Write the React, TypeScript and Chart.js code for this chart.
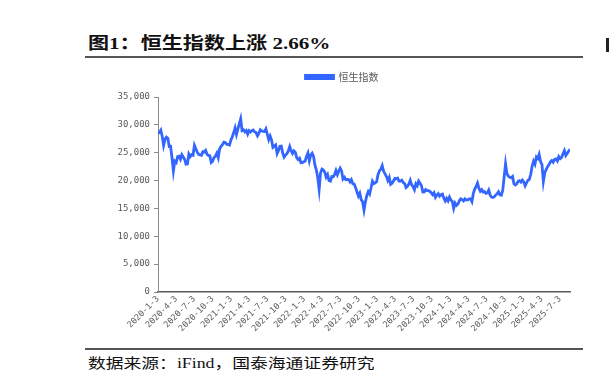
import React, { useEffect, useRef } from 'react';
import { Chart, registerables } from 'chart.js';

Chart.register(...registerables);

const titleText = '图1：恒生指数上涨 2.66%';
const sourceText = '数据来源：iFind，国泰海通证券研究';
const seriesName = '恒生指数';

// Weekly (Friday) closes starting 2020-01-03
const hsi2020 = [
  28452, 28638, 29056, 27950, 26313, 27404, 27815, 27609, 26130, 26146, 24032, 21700, 23484,
  23236, 24300, 24380, 23831, 24644, 24230, 23797, 22930, 22961, 24770, 24301, 24644, 24549,
  26339, 25727, 25089, 24705, 24595, 24531, 25183, 25113, 25422, 24695, 24503, 24455, 23235,
  23459, 24119, 24386, 24918, 24107, 25712, 26157, 26451, 26894, 26836, 26506, 26498, 26387,
  27231,
];
const hsi2021 = [
  27878, 28574, 29448, 28284, 29289, 30173, 31085, 28980, 29098, 28740, 28990, 28336, 28939,
  28698, 28970, 29078, 28725, 28610, 28027, 28458, 29124, 28918, 28842, 28801, 29288, 28310,
  27344, 28004, 27321, 25961, 26179, 26391, 24849, 25407, 26163, 26205, 24920, 24192, 24576,
  24838, 25331, 26127, 25377, 24871, 25328, 25050, 24080, 23767, 23996, 23193, 23224, 23398,
];
const hsi2022 = [
  23493, 24383, 24966, 23550, 24573, 24906, 24328, 22767, 21905, 20554, 18415, 21404, 22039,
  21872, 21518, 20638, 21089, 20002, 19898, 20717, 20697, 21082, 21806, 21075, 21719, 22230,
  21725, 20297, 20609, 20156, 20202, 20175, 19773, 20170, 19453, 19362, 18762, 17933, 17223,
  17740, 16588, 16211, 14700, 16161, 17326, 17993, 17574, 18675, 19901, 19450, 19593, 19781,
];
const hsi2023 = [
  21052, 21738, 22045, 22689, 21660, 21190, 20719, 20010, 20567, 19320, 19518, 19915, 20400,
  20331, 20438, 19898, 19895, 20049, 19628, 19450, 18746, 18949, 19390, 20040, 19218, 18916,
  18365, 19414, 19075, 19917, 19539, 19075, 17951, 17956, 18382, 18202, 18182, 18057, 17809,
  17485, 17813, 16995, 17398, 17664, 17203, 17454, 17559, 16830, 16334, 16792, 16341, 17047,
];
const hsi2024 = [
  16535, 16244, 15000, 15952, 15533, 15747, 16340, 16726, 16589, 16353, 16721, 16499, 16541,
  16724, 16721, 16224, 17651, 18476, 18964, 19554, 18609, 18080, 18367, 17942, 18028, 17719,
  17799, 18293, 17417, 17022, 16945, 17090, 17430, 17612, 17989, 17444, 17369, 18258, 20632,
  23000, 21252, 20804, 20590, 20506, 20728, 19426, 19230, 19424, 19866, 19971, 19720, 20090,
];
const hsi2025 = [
  19760, 19064, 19584, 20066, 20225, 21133, 22620, 23478, 22941, 24231, 23959, 24700, 23426,
  22849, 19830, 21395, 21980, 22504, 22868, 23345, 23601, 23290, 23792, 23892, 23531, 24284,
  23916, 24140, 24826, 25388, 24508, 24859, 25270, 25600,
];

const tickLabels = [
  '2020-1-3', '2020-4-3', '2020-7-3', '2020-10-3', '2021-1-3', '2021-4-3', '2021-7-3', '2021-10-3',
  '2022-1-3', '2022-4-3', '2022-7-3', '2022-10-3', '2023-1-3', '2023-4-3', '2023-7-3', '2023-10-3',
  '2024-1-3', '2024-4-3', '2024-7-3', '2024-10-3', '2025-1-3', '2025-4-3', '2025-7-3',
];

const yTicks = [0, 5000, 10000, 15000, 20000, 25000, 30000, 35000];

const dayOffset = (s: string) => {
  const [y, m, d] = s.split('-').map(Number);
  return (Date.UTC(y, m - 1, d) - Date.UTC(2020, 0, 3)) / 86400000;
};

export default function App() {
  const ref = useRef<HTMLCanvasElement | null>(null);

  useEffect(() => {
    if (!ref.current) return;
    const values = [...hsi2020, ...hsi2021, ...hsi2022, ...hsi2023, ...hsi2024, ...hsi2025];
    const points = values.map((v, i) => ({ x: i * 7, y: v }));
    const lastDay = (values.length - 1) * 7;
    const tickDays = tickLabels.map(dayOffset);
    const grey = '#595959';

    const chart = new Chart(ref.current, {
      type: 'line',
      data: {
        datasets: [
          {
            label: seriesName,
            data: points,
            borderColor: '#3366ff',
            backgroundColor: '#3366ff',
            borderWidth: 2.8,
            pointRadius: 0,
            tension: 0,
          },
        ],
      },
      options: {
        animation: false,
        responsive: false,
        maintainAspectRatio: false,
        layout: { padding: { top: 0, right: 14, bottom: 0, left: 14 } },
        plugins: {
          legend: {
            display: true,
            position: 'top',
            weight: 3000,
            labels: {
              boxWidth: 28,
              boxHeight: 3,
              color: grey,
              padding: 14,
              font: { size: 10, family: '"Noto Sans CJK SC", sans-serif' },
            },
          },
          // blank spacer between the legend and the plot area
          title: {
            display: true,
            text: ' ',
            color: 'rgba(0,0,0,0)',
            font: { size: 1, lineHeight: 1 },
            padding: { top: 4, bottom: 0 },
          },
          tooltip: { enabled: false },
        },
        scales: {
          x: {
            type: 'linear',
            min: 0,
            max: lastDay,
            afterBuildTicks: (scale: any) => {
              scale.ticks = tickDays.map((v) => ({ value: v }));
            },
            afterFit: (scale: any) => {
              scale.height = 50;
            },
            ticks: {
              autoSkip: false,
              maxRotation: 45,
              minRotation: 45,
              color: grey,
              padding: 2,
              font: { size: 8.5, family: '"DejaVu Sans Mono", monospace' },
              callback: (_v: any, i: number) => tickLabels[i],
            },
            grid: { display: true, drawOnChartArea: false, drawTicks: false },
            border: { color: grey, width: 1.5 },
          },
          y: {
            min: 0,
            max: 35000,
            afterBuildTicks: (scale: any) => {
              scale.ticks = yTicks.map((v) => ({ value: v }));
            },
            afterFit: (scale: any) => {
              scale.width = 44;
            },
            ticks: {
              color: grey,
              padding: 4,
              font: { size: 9, family: '"DejaVu Sans Mono", monospace' },
              callback: (v: any) => Number(v).toLocaleString('en-US'),
            },
            grid: { drawOnChartArea: false, drawTicks: true, tickLength: 4, color: '#8c8c8c' },
            border: { color: '#8c8c8c', width: 1 },
          },
        },
      },
    });
    return () => chart.destroy();
  }, []);

  return (
    <div style={{ position: 'fixed', left: 0, top: 0, width: 611, height: 382, background: '#fff', overflow: 'hidden' }}>
      <div
        style={{
          position: 'absolute',
          left: 88,
          top: 34,
          fontFamily: '"Liberation Serif", "Noto Sans CJK SC", serif',
          fontWeight: 'bold',
          fontSize: 17,
          color: '#111',
          whiteSpace: 'nowrap',
          lineHeight: '20px',
          transform: 'scaleX(1.24)',
          transformOrigin: 'left top',
        }}
      >
        {titleText}
      </div>
      <div style={{ position: 'absolute', left: 85, top: 56, width: 498, height: 2, background: '#555' }} />
      <div style={{ position: 'absolute', left: 606, top: 38, width: 3, height: 14, background: '#222' }} />
      <canvas
        ref={ref}
        width={484}
        height={284}
        style={{ position: 'absolute', left: 100, top: 58, width: 484, height: 284 }}
      />
      <div style={{ position: 'absolute', left: 85, top: 348, width: 498, height: 2, background: '#555' }} />
      <div
        style={{
          position: 'absolute',
          left: 88,
          top: 355,
          fontFamily: '"Liberation Serif", "Noto Sans CJK SC", serif',
          fontSize: 14,
          color: '#111',
          whiteSpace: 'nowrap',
          lineHeight: '18px',
          transform: 'scaleX(1.27)',
          transformOrigin: 'left top',
        }}
      >
        {sourceText}
      </div>
    </div>
  );
}
